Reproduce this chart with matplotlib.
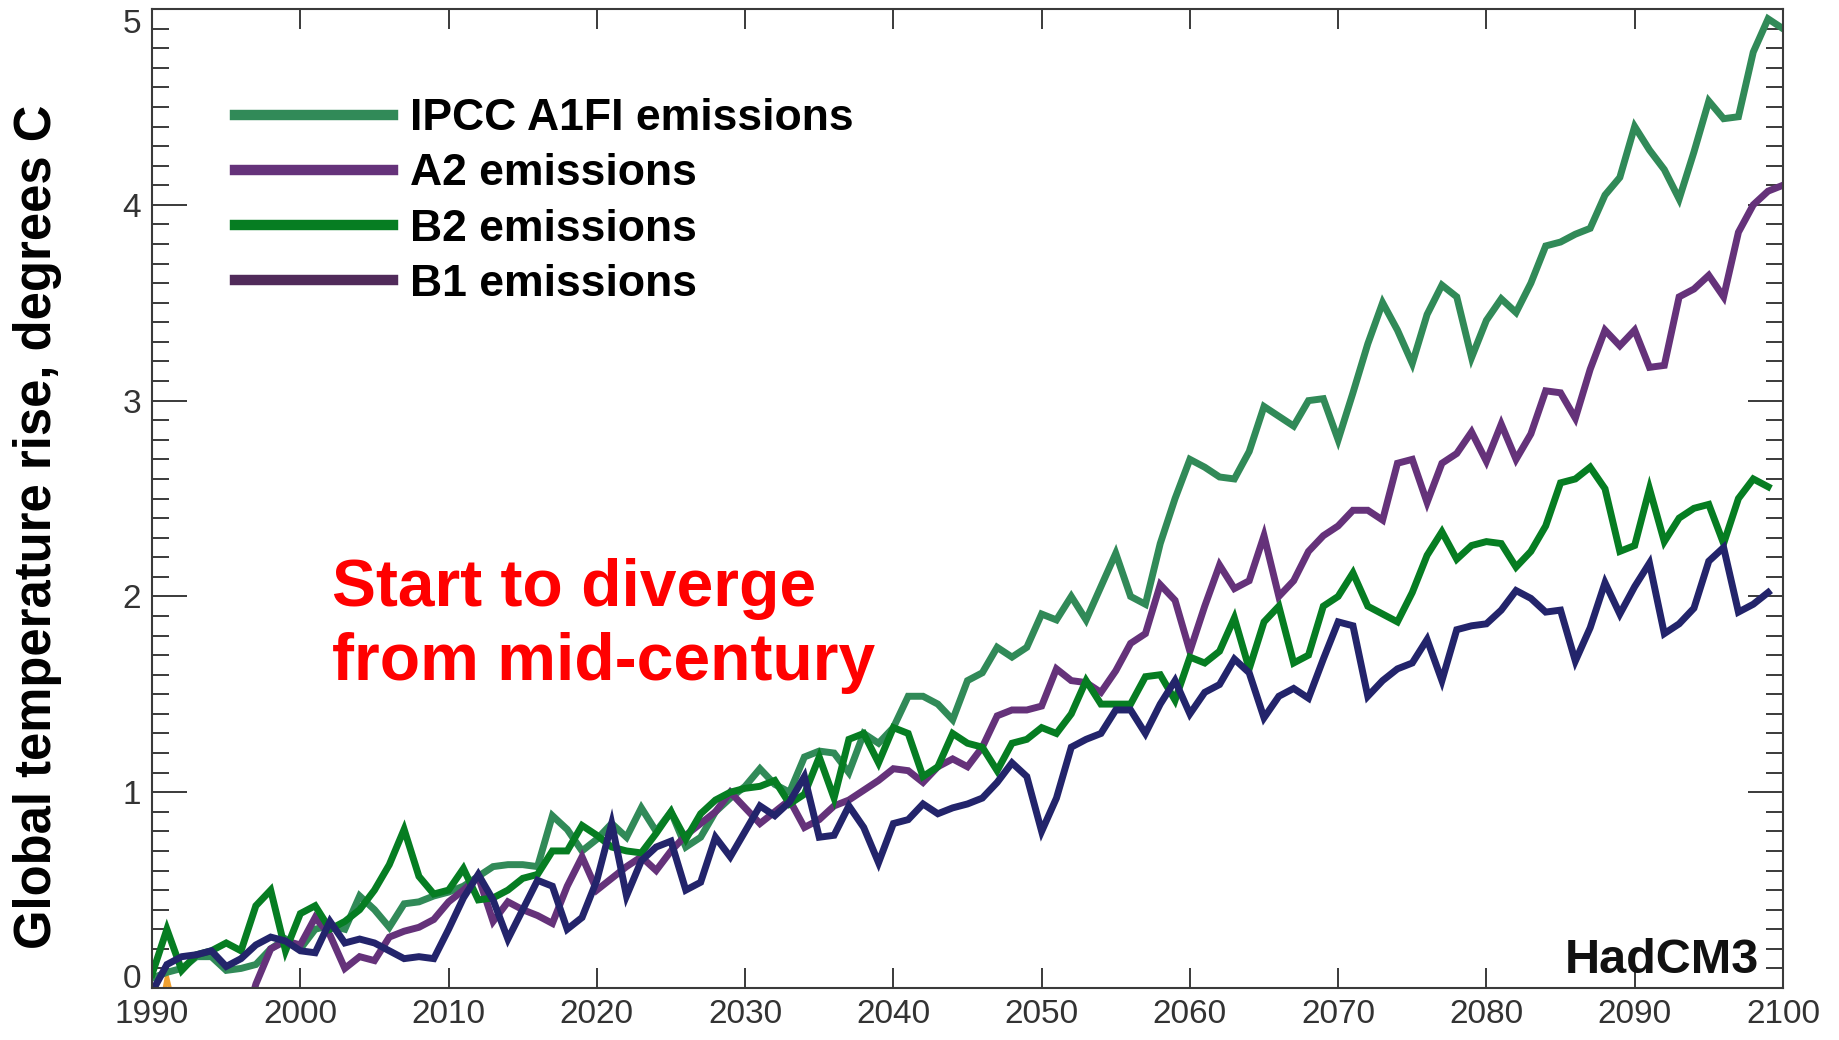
import numpy as np
import matplotlib
matplotlib.use("Agg")
import matplotlib.pyplot as plt
from matplotlib.ticker import MultipleLocator

plt.rcParams['font.family'] = ['Liberation Sans', 'DejaVu Sans']

# annual global temperature rise (deg C)
a1fi_start = 1990
a1fi = [0.05, 0.08, 0.10, 0.16, 0.16, 0.09, 0.10, 0.12, 0.20, 0.25,
        0.20, 0.30, 0.32, 0.30, 0.47, 0.40, 0.31, 0.43, 0.44, 0.47,
        0.49, 0.52, 0.57, 0.62, 0.63, 0.63, 0.62, 0.88, 0.81, 0.70,
        0.76, 0.84, 0.77, 0.92, 0.80, 0.90, 0.72, 0.77, 0.90, 0.97,
        1.03, 1.12, 1.04, 1.00, 1.18, 1.21, 1.20, 1.10, 1.30, 1.25,
        1.33, 1.49, 1.49, 1.45, 1.37, 1.57, 1.61, 1.74, 1.69, 1.74,
        1.91, 1.88, 2.00, 1.88, 2.05, 2.22, 2.00, 1.96, 2.27, 2.50,
        2.70, 2.66, 2.61, 2.60, 2.74, 2.97, 2.92, 2.87, 3.00, 3.01,
        2.80, 3.04, 3.29, 3.50, 3.36, 3.19, 3.44, 3.59, 3.53, 3.22,
        3.41, 3.52, 3.45, 3.60, 3.79, 3.81, 3.85, 3.88, 4.05, 4.14,
        4.40, 4.28, 4.18, 4.03, 4.27, 4.53, 4.44, 4.45, 4.78, 4.95, 4.90]

a2_start = 1996
a2 = [-0.25, 0.02, 0.20, 0.24,
      0.22, 0.36, 0.27, 0.10, 0.16, 0.14, 0.26, 0.29, 0.31, 0.35,
      0.44, 0.50, 0.57, 0.34, 0.44, 0.40, 0.37, 0.33, 0.52, 0.67,
      0.50, 0.56, 0.62, 0.67, 0.60, 0.70, 0.78, 0.84, 0.90, 1.00,
      0.92, 0.84, 0.90, 0.96, 0.82, 0.86, 0.93, 0.96, 1.01, 1.06,
      1.12, 1.11, 1.05, 1.13, 1.17, 1.13, 1.23, 1.39, 1.42, 1.42,
      1.44, 1.63, 1.57, 1.56, 1.51, 1.62, 1.76, 1.81, 2.06, 1.98,
      1.72, 1.95, 2.16, 2.04, 2.08, 2.31, 2.00, 2.08, 2.23, 2.31,
      2.36, 2.44, 2.44, 2.39, 2.68, 2.70, 2.48, 2.68, 2.73, 2.84,
      2.69, 2.88, 2.70, 2.83, 3.05, 3.04, 2.91, 3.16, 3.36, 3.28,
      3.36, 3.17, 3.18, 3.53, 3.57, 3.64, 3.53, 3.86, 4.00, 4.07, 4.10]

b2_start = 1990
b2 = [0.07, 0.30, 0.09, 0.17, 0.19, 0.23, 0.19, 0.42, 0.50, 0.19,
      0.38, 0.42, 0.30, 0.34, 0.40, 0.50, 0.63, 0.81, 0.57, 0.48,
      0.50, 0.61, 0.45, 0.46, 0.50, 0.56, 0.58, 0.70, 0.70, 0.83,
      0.78, 0.72, 0.70, 0.69, 0.79, 0.90, 0.76, 0.89, 0.96, 1.00,
      1.02, 1.03, 1.06, 0.94, 0.99, 1.18, 0.97, 1.27, 1.30, 1.15,
      1.33, 1.30, 1.08, 1.13, 1.30, 1.25, 1.23, 1.11, 1.25, 1.27,
      1.33, 1.30, 1.40, 1.57, 1.45, 1.45, 1.45, 1.59, 1.60, 1.47,
      1.69, 1.66, 1.72, 1.89, 1.63, 1.87, 1.95, 1.66, 1.70, 1.95,
      2.00, 2.12, 1.95, 1.91, 1.87, 2.02, 2.21, 2.33, 2.19, 2.26,
      2.28, 2.27, 2.15, 2.23, 2.36, 2.58, 2.60, 2.66, 2.55, 2.23,
      2.26, 2.55, 2.28, 2.40, 2.45, 2.47, 2.27, 2.50, 2.60, 2.56]

b1_start = 1990
b1 = [-0.02, 0.12, 0.16, 0.17, 0.19, 0.11, 0.15, 0.22, 0.26, 0.24,
      0.19, 0.18, 0.34, 0.23, 0.25, 0.23, 0.19, 0.15, 0.16, 0.15,
      0.30, 0.46, 0.58, 0.45, 0.25, 0.40, 0.55, 0.52, 0.30, 0.36,
      0.55, 0.84, 0.47, 0.65, 0.72, 0.75, 0.50, 0.54, 0.77, 0.67,
      0.80, 0.93, 0.88, 0.95, 1.08, 0.77, 0.78, 0.93, 0.82, 0.64,
      0.84, 0.86, 0.94, 0.89, 0.92, 0.94, 0.97, 1.05, 1.15, 1.08,
      0.80, 0.97, 1.23, 1.27, 1.30, 1.42, 1.42, 1.30, 1.45, 1.57,
      1.40, 1.51, 1.55, 1.68, 1.61, 1.38, 1.49, 1.53, 1.48, 1.68,
      1.87, 1.85, 1.49, 1.57, 1.63, 1.66, 1.78, 1.57, 1.83, 1.85,
      1.86, 1.93, 2.03, 1.99, 1.92, 1.93, 1.67, 1.84, 2.07, 1.91,
      2.05, 2.17, 1.81, 1.86, 1.94, 2.18, 2.25, 1.92, 1.96, 2.02]

# little orange stub poking above zero near 1991
stub_years = [1990, 1991, 1992]
stub = [-0.35, 0.06, -0.25]

labels = ['IPCC A1FI emissions', 'A2 emissions', 'B2 emissions', 'B1 emissions']
colors = ['#318a58', '#65327a', '#067d22', '#23246b']
b1_legend_color = '#502a5a'

fig = plt.figure(figsize=(18.39, 10.40), dpi=100)
ax = fig.add_axes([0.0827, 0.05, 0.8868, 0.9413])

ax.plot(stub_years, stub, color='#f0a030', lw=3)
series = [(a1fi_start, a1fi), (a2_start, a2), (b2_start, b2), (b1_start, b1)]
for (start, vals), lab, col in zip(series, labels, colors):
    yrs = np.arange(start, start + len(vals))
    ax.plot(yrs, vals, color=col, lw=5, label=lab, solid_joinstyle='miter')

ax.set_xlim(1990, 2100)
ax.set_ylim(0, 5)
ax.set_xticks(range(1990, 2101, 10))
ax.set_yticks(range(0, 6))
ax.yaxis.set_minor_locator(MultipleLocator(0.1))

edge = '#3a3a3a'
for s in ax.spines.values():
    s.set_color(edge)
    s.set_linewidth(1.5)
ax.tick_params(axis='x', which='major', direction='in', length=14.5, width=1.4,
               top=True, color=edge, labelsize=24, labelcolor='#333333', pad=8)
ax.tick_params(axis='y', which='major', direction='in', length=25, width=1.4,
               right=True, color=edge, labelsize=24, labelcolor='#333333', pad=8)
ax.tick_params(axis='y', which='minor', direction='in', length=12, width=1.4,
               right=True, color=edge)
ax.tick_params(axis='x', which='minor', bottom=False, top=False)

# keep the end labels inside the frame like the original
yt = ax.yaxis.get_major_ticks()
yt[0].label1.set_va('baseline')
yt[-1].label1.set_va('top')

leg = ax.legend(loc='upper left', bbox_to_anchor=(0.0509, 0.909), frameon=False,
                borderpad=0, borderaxespad=0, handlelength=3.56, handletextpad=0.38,
                labelspacing=0.32, prop={'size': 32, 'weight': 'bold'})
for h in leg.legend_handles:
    h.set_linewidth(7.5)
leg.legend_handles[3].set_color(b1_legend_color)

fig.text(37.5 / 1839, 1 - 527 / 1040, 'Global temperature rise, degrees C',
         rotation=90, ha='center', va='center', fontsize=36.5, fontweight='bold')

fig.text(332 / 1839, 1 - 606 / 1040, 'Start to diverge', color='#ff0000',
         fontsize=47.5, fontweight='bold', ha='left', va='baseline')
fig.text(332 / 1839, 1 - 680 / 1040, 'from mid-century', color='#ff0000',
         fontsize=47.5, fontweight='bold', ha='left', va='baseline')

fig.text(1759 / 1839, 1 - 973 / 1040, 'HadCM3', fontsize=35, fontweight='bold',
         ha='right', va='baseline', color='#111111')

fig.savefig('out.png', dpi=100)
